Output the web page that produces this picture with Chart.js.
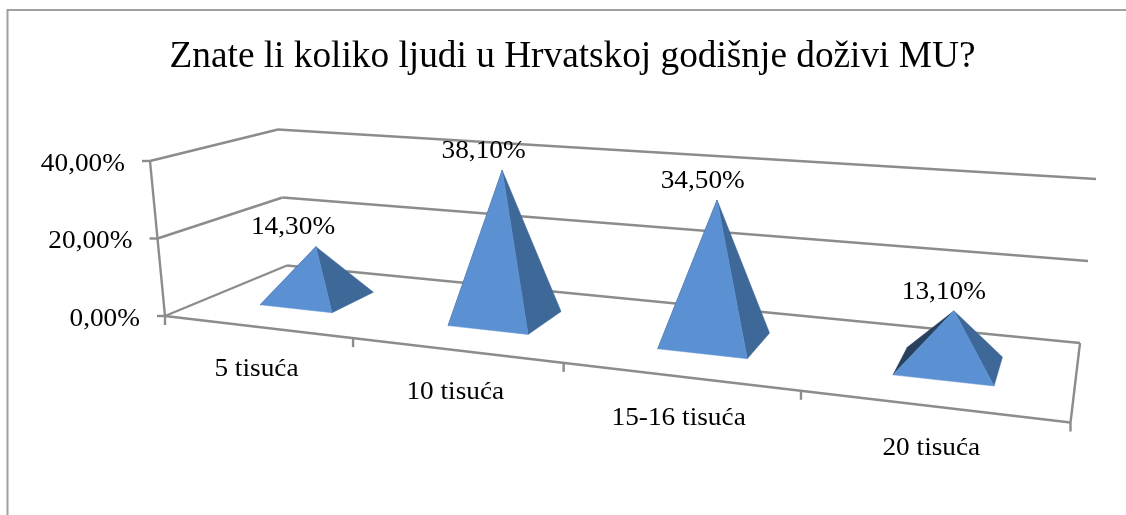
<!DOCTYPE html>
<html><head><meta charset="utf-8">
<style>html,body{margin:0;padding:0;background:#fff}#w{position:relative;width:1126px;height:515px}</style>
<script src="https://cdn.jsdelivr.net/npm/chart.js@4/dist/chart.umd.min.js"></script>
</head><body><div id="w"><canvas id="c" width="1126" height="515"></canvas></div>
<script>
const categories = ['5 tisuća','10 tisuća','15-16 tisuća','20 tisuća'];
const values = [14.3,38.1,34.5,13.1];
const valueLabels = ['14,30%','38,10%','34,50%','13,10%'];
const yTicks = [0,20,40];
const titleText = 'Znate li koliko ljudi u Hrvatskoj godišnje doživi MU?';

// projection of the 3D box on the page
const FLOOR = {a:[165,316],b:[1070.5,422.5],c:[1080,343],d:[287,265.5]};
const TOP = {a:[150,161],b:[1092,232],c:[1096,179],d:[278,129.5]};
function quad(q){
  const [x0,y0]=q.a,[x1,y1]=q.b,[x2,y2]=q.c,[x3,y3]=q.d;
  const dx1=x1-x2,dx2=x3-x2,sx=x0-x1+x2-x3,dy1=y1-y2,dy2=y3-y2,sy=y0-y1+y2-y3;
  const den=dx1*dy2-dx2*dy1;
  const g=(sx*dy2-dx2*sy)/den,h=(dx1*sy-sx*dy1)/den;
  const A=x1-x0+g*x1,B=x3-x0+h*x3,D=y1-y0+g*y1,E=y3-y0+h*y3;
  return (u,v)=>{const w=g*u+h*v+1;return [(A*u+B*v+x0)/w,(D*u+E*v+y0)/w];};
}
const floorMap=quad(FLOOR), topMap=quad(TOP);
function project(u,v,t){
  const w=u+0.0133*u*(1-u);
  const f=floorMap(w,v),p=topMap(w,v);
  return [f[0]+(p[0]-f[0])*t,f[1]+(p[1]-f[1])*t];
}
const DEPTH=[0.31,0.69];
const BAR_SHIFT=0.001, APEX_LEAN=7;
const LINE='#8c8c8c', FRONT='#5b90d3', RIGHT='#3e6898', LEFT='#27415f';
const FONT='"Liberation Serif"';
function stretched(ctx,s,cx,cy,size,align){
  ctx.save();
  ctx.font=size+'px '+FONT;ctx.fillStyle='#000';ctx.textBaseline='middle';ctx.textAlign=align;
  ctx.translate(cx,cy);ctx.scale(1.05,1);ctx.fillText(s,0,0);ctx.restore();
}
function poly(ctx,pts,fill){
  ctx.beginPath();pts.forEach((p,i)=>i?ctx.lineTo(p[0],p[1]):ctx.moveTo(p[0],p[1]));ctx.closePath();
  ctx.fillStyle=fill;ctx.fill();ctx.strokeStyle=fill;ctx.lineWidth=0.5;ctx.stroke();
}
function seg(ctx,a,b,w){ctx.beginPath();ctx.moveTo(a[0],a[1]);ctx.lineTo(b[0],b[1]);ctx.strokeStyle=LINE;ctx.lineWidth=w||2.4;ctx.stroke();}

const box3d={
  id:'box3d',
  beforeDatasetsDraw(chart){
    const ctx=chart.ctx,y=chart.scales.y,x=chart.scales.x,n=categories.length;
    ctx.save();
    // outer frame
    ctx.strokeStyle='#a0a0a0';ctx.lineWidth=2;ctx.beginPath();ctx.moveTo(7.5,515);ctx.lineTo(7.5,10);ctx.lineTo(1126,10);ctx.stroke();
    // walls and gridlines from the value scale
    y.ticks.forEach(tk=>{
      const t=(y.bottom-y.getPixelForValue(tk.value))/(y.bottom-y.top);
      const a=project(0,0,t),b=project(0,1,t),c=project(1,1,t);
      seg(ctx,a,b);seg(ctx,b,c);
      seg(ctx,[a[0]-8,a[1]],a);
      stretched(ctx,y.options.ticks.callback(tk.value),a[0]-25,a[1]+3,26,'right');
    });
    seg(ctx,project(0,0,0),project(0,0,1));
    // floor
    const f0=project(0,0,0),f1=project(1,0,0),f2=project(1,1,0);
    seg(ctx,f0,f1);seg(ctx,f1,f2);
    // category ticks and labels
    for(let i=0;i<=n;i++){const p=project(i/n,0,0);seg(ctx,p,[p[0],p[1]+9]);}
    categories.forEach((c,i)=>{
      const u=(x.getPixelForValue(i)-x.left)/x.width;
      const p=project(u,0,0);
      stretched(ctx,c,p[0],p[1]+42,26,'center');
    });
    ctx.restore();
  },
  afterDatasetsDraw(chart){
    const ctx=chart.ctx,x=chart.scales.x,y=chart.scales.y;
    const meta=chart.getDatasetMeta(0);
    ctx.save();
    meta.data.forEach((el,i)=>{
      const uc=(el.x-x.left)/x.width+BAR_SHIFT, hw=el.width/x.width/2;
      const t=(y.bottom-el.y)/(y.bottom-y.top);
      const vc=(DEPTH[0]+DEPTH[1])/2;
      const FL=project(uc-hw,DEPTH[0],0),FR=project(uc+hw,DEPTH[0],0),
            BR=project(uc+hw,DEPTH[1],0),BL=project(uc-hw,DEPTH[1],0),A=project(uc,vc,t);
      A[0]+=APEX_LEAN*t;A[1]+=2*(1-t);
      poly(ctx,[BL,FL,A],LEFT);
      poly(ctx,[FR,BR,A],RIGHT);
      poly(ctx,[FL,FR,A],FRONT);
      stretched(ctx,valueLabels[i],A[0]-25+17*uc,A[1]-19,26,'center');
    });
    ctx.restore();
  }
};
new Chart(document.getElementById('c'),{
  type:'bar',
  data:{labels:categories,datasets:[{data:values,backgroundColor:'rgba(0,0,0,0)',borderWidth:0,barPercentage:0.395,categoryPercentage:1}]},
  options:{
    responsive:false,animation:false,
    layout:{padding:{left:19,right:0,top:0,bottom:20}},
    plugins:{
      legend:{display:false},tooltip:{enabled:false},
      title:{display:true,text:titleText,fullSize:false,color:'#000',font:{family:FONT,size:37.3,weight:'normal'},padding:{top:35,bottom:20}}
    },
    scales:{
      x:{display:false,offset:true},
      y:{display:false,min:0,max:40,afterBuildTicks(s){s.ticks=yTicks.map(v=>({value:v}));},
         ticks:{callback:v=>v.toFixed(2).replace('.',',')+'%'}}
    }
  },
  plugins:[box3d]
});
</script></body></html>
